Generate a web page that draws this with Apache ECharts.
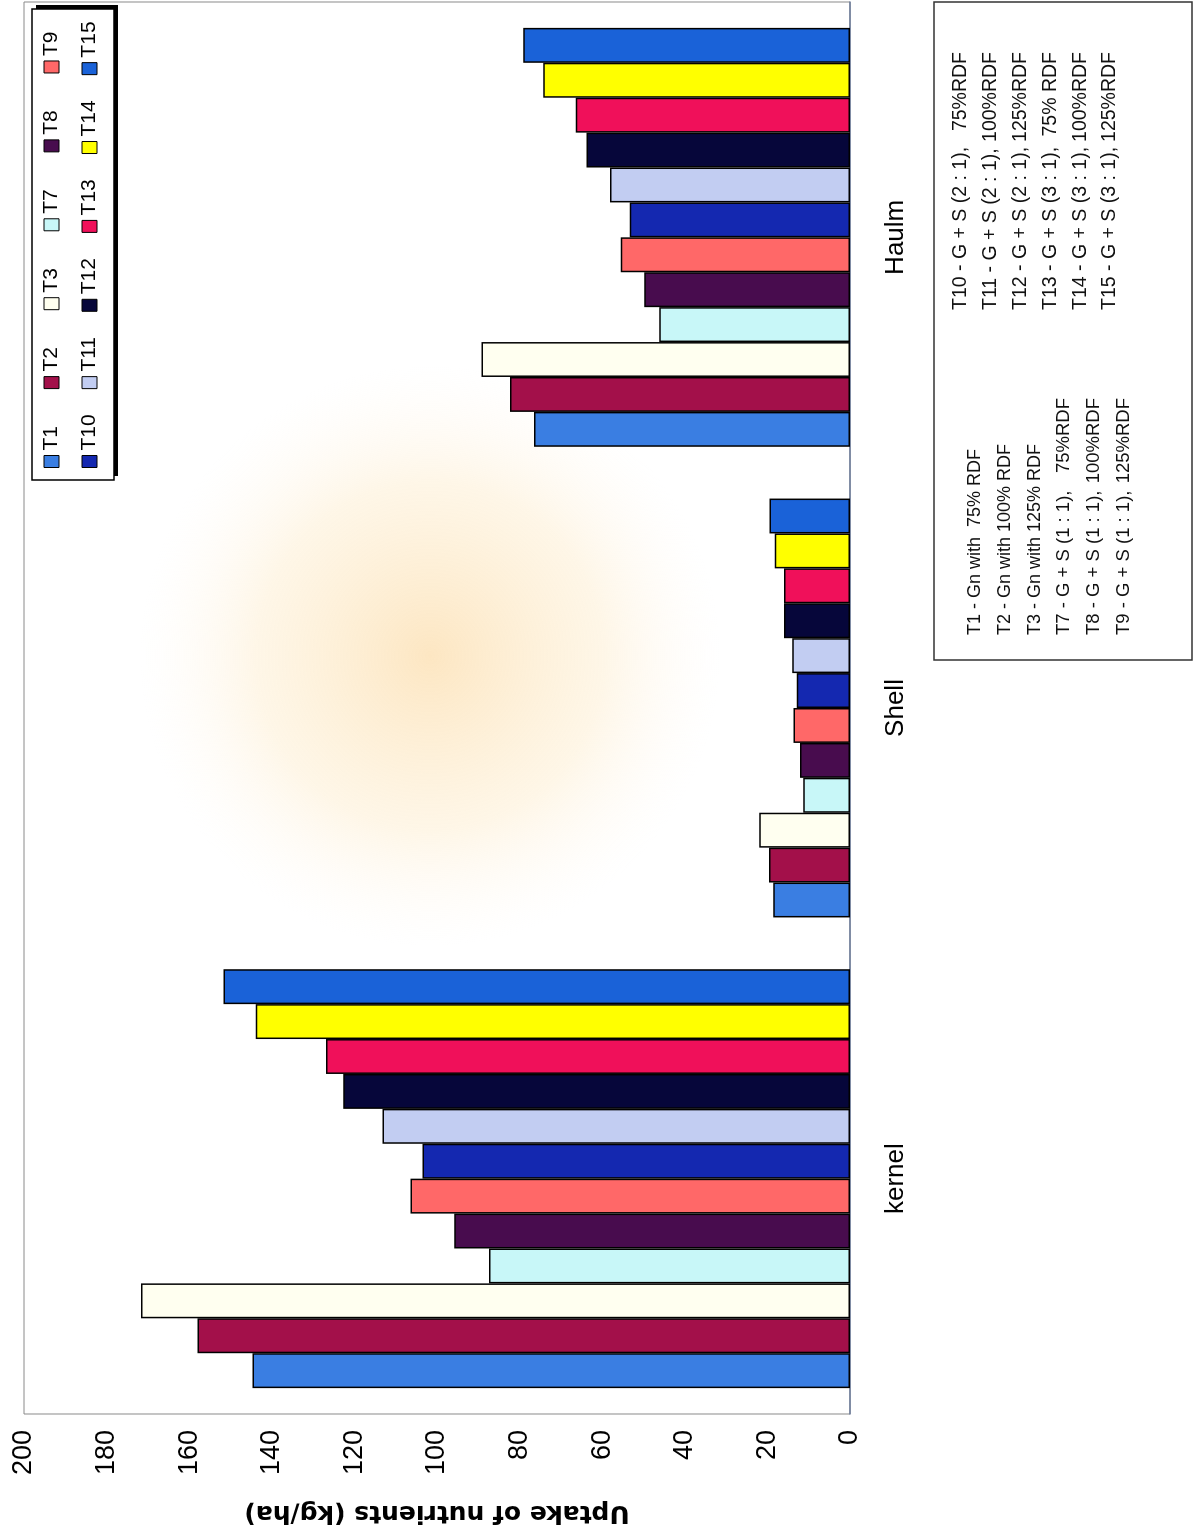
<!DOCTYPE html>
<html>
<head>
<meta charset="utf-8">
<script src="https://cdn.jsdelivr.net/npm/echarts@6/dist/echarts.min.js"></script>
<style>
  html, body { margin: 0; padding: 0; background: #fff; }
  body { width: 1200px; height: 1536px; overflow: hidden; position: relative; }
  #chart {
    position: absolute; left: 0; top: 0;
    width: 1536px; height: 1200px;
    transform-origin: 0 0;
    transform: translate(0px, 1536px) rotate(-90deg);
  }
</style>
</head>
<body>
<div id="chart"></div>
<script>
// ---- data ----
const categories = ['kernel', 'Shell', 'Haulm'];
const seriesNames = ['T1', 'T2', 'T3', 'T7', 'T8', 'T9', 'T10', 'T11', 'T12', 'T13', 'T14', 'T15'];
const T1  = [144.7, 18.6, 76.5];
const T2  = [158.0, 19.6, 82.3];
const T3  = [171.7, 22.0, 89.2];
const T7  = [87.4, 11.3, 46.2];
const T8  = [95.8, 12.1, 49.8];
const T9  = [106.4, 13.7, 55.5];
const T10 = [103.5, 12.9, 53.3];
const T11 = [113.2, 14.0, 58.1];
const T12 = [122.7, 16.0, 63.8];
const T13 = [126.9, 16.0, 66.4];
const T14 = [143.9, 18.2, 74.3];
const T15 = [151.7, 19.5, 79.1];
const seriesValues = [T1, T2, T3, T7, T8, T9, T10, T11, T12, T13, T14, T15];
const seriesColors = ['#3a7ee2', '#a3104a', '#fffff0', '#c8f7f8', '#480c4e', '#ff6868',
                      '#1428b0', '#c2cdf2', '#06063a', '#f0105a', '#ffff00', '#1a62d8'];
const axisTitle = 'Uptake of nutrients (kg/ha)';
const valueMin = 0, valueMax = 200, valueStep = 20;
const legendRow1 = ['T1', 'T2', 'T3', 'T7', 'T8', 'T9'];
const legendRow2 = ['T10', 'T11', 'T12', 'T13', 'T14', 'T15'];
const noteGn = ['T1 - Gn with  75% RDF', 'T2 - Gn with 100% RDF', 'T3 - Gn with 125% RDF'];
const noteLeftCol1 = ['T7 - G + S (1 : 1),', 'T8 - G + S (1 : 1),', 'T9 - G + S (1 : 1),'];
const noteRightCol1 = ['75%RDF', '100%RDF', '125%RDF'];
const noteLeftCol2 = ['T10 - G + S (2 : 1),', 'T11 - G + S (2 : 1),', 'T12 - G + S (2 : 1),',
                      'T13 - G + S (3 : 1),', 'T14 - G + S (3 : 1),', 'T15 - G + S (3 : 1),'];
const noteRightCol2 = ['75%RDF', '100%RDF', '125%RDF', '75% RDF', '100%RDF', '125%RDF'];

// ---- chart ----
const FONT = '"Liberation Sans", Arial, Helvetica, sans-serif';
const chart = echarts.init(document.getElementById('chart'), null, { renderer: 'canvas' });

const series = seriesNames.map((name, i) => ({
  name: name,
  type: 'bar',
  data: seriesValues[i],
  barGap: '0%',
  barCategoryGap: '11%',
  itemStyle: { color: seriesColors[i], borderColor: '#000', borderWidth: 1.5 },
  emphasis: { disabled: true }
}));

const graphics = [];
// faint background glow (scan artifact)
graphics.push({
  type: 'ellipse', silent: true, z: 0,
  shape: { cx: 880, cy: 430, rx: 440, ry: 290 },
  style: {
    fill: {
      type: 'radial', x: 0.5, y: 0.5, r: 0.5,
      colorStops: [
        { offset: 0, color: 'rgba(250,200,120,0.45)' },
        { offset: 0.6, color: 'rgba(252,220,160,0.25)' },
        { offset: 1, color: 'rgba(255,240,220,0)' }
      ]
    }
  }
});
// legend frame with shadow
graphics.push({ type: 'rect', silent: true, z: 1, shape: { x: 1060, y: 36, width: 471, height: 82 }, style: { fill: '#000' } });
graphics.push({ type: 'rect', silent: true, z: 2, shape: { x: 1056, y: 32, width: 471, height: 82 }, style: { fill: '#fff', stroke: '#000', lineWidth: 1.5 } });
// note box
graphics.push({ type: 'rect', silent: true, z: 1, shape: { x: 876, y: 934, width: 658, height: 258 }, style: { fill: '#fff', stroke: '#333', lineWidth: 1.5 } });
const LINE = 29.8;
function noteText(t, x, y, align, size) {
  graphics.push({ type: 'text', silent: true, z: 3, x: x, y: y,
    style: { text: t, font: size + 'px ' + FONT, fill: '#111', align: align, verticalAlign: 'middle' } });
}
noteGn.forEach((t, i) => noteText(t, 901, 975 + i * LINE, 'left', 18));
noteLeftCol1.forEach((t, i) => {
  const y = 975 + (i + 3) * LINE;
  noteText(t, 901, y, 'left', 18.5);
  noteText(noteRightCol1[i], 1138, y, 'right', 18.5);
});
noteLeftCol2.forEach((t, i) => {
  const y = 961 + i * LINE;
  noteText(t, 1226, y, 'left', 19.5);
  noteText(noteRightCol2[i], 1484, y, 'right', 19.5);
});

const legendCommon = {
  orient: 'horizontal',
  left: 1068,
  itemWidth: 12,
  itemHeight: 15,
  icon: 'rect',
  selectedMode: false,
  z: 5,
  padding: 0,
  itemStyle: { borderColor: '#000', borderWidth: 1 },
  textStyle: { fontSize: 21, color: '#000', fontFamily: FONT }
};

const option = {
  animation: false,
  backgroundColor: 'transparent',
  textStyle: { fontFamily: FONT },
  grid: {
    left: 122, right: 2, top: 24, bottom: 350,
    show: true, borderColor: '#8a8a8a', borderWidth: 1, backgroundColor: 'transparent',
    containLabel: false
  },
  legend: [
    Object.assign({}, legendCommon, { data: legendRow1, top: 41, itemGap: 36.9 }),
    Object.assign({}, legendCommon, { data: legendRow2, top: 79, itemGap: 25.2 })
  ],
  xAxis: {
    type: 'category',
    data: categories,
    axisLine: { show: true, lineStyle: { color: '#6b7b9b', width: 1.5 } },
    axisTick: { show: false },
    axisLabel: { fontSize: 26, color: '#000', margin: 33, fontFamily: FONT },
    splitLine: { show: false }
  },
  yAxis: {
    type: 'value',
    min: valueMin, max: valueMax, interval: valueStep,
    name: axisTitle,
    nameLocation: 'middle',
    nameRotate: 90,
    nameGap: 86,
    nameTextStyle: { fontSize: 25, fontWeight: 'bold', color: '#000', fontFamily: '"DejaVu Sans", Arial, sans-serif' },
    axisLine: { show: false },
    axisTick: { show: false },
    axisLabel: { fontSize: 27, color: '#000', margin: 16, fontFamily: FONT },
    splitLine: { show: false }
  },
  graphic: graphics,
  series: series
};
chart.setOption(option);
</script>
</body>
</html>
